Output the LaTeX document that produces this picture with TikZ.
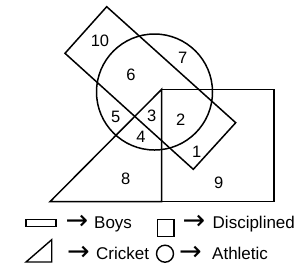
\documentclass[tikz,border=0pt]{standalone}
\usepackage{fontspec}
\setmainfont{Liberation Sans}
\newfontfamily\arrowfont{DejaVu Sans}
\begin{document}
\begin{tikzpicture}[x=1pt,y=-1pt,
  shp/.style={draw=black,line width=1.5pt,line join=miter},
  icon/.style={draw=black,line width=1.4pt},
  num/.style={inner sep=0pt,font=\fontsize{16.5}{18}\selectfont},
  leg/.style={inner sep=0pt,anchor=base west,font=\fontsize{17}{19}\selectfont},
  arr/.style={inner sep=0pt,anchor=center,font=\arrowfont\fontsize{27}{28}\selectfont}]
\useasboundingbox (0,0) rectangle (307,274);
% diagram
\draw[shp] (106.7,6.7) -- (235.7,122.7) -- (193.3,169.3) -- (65,53.3) -- cycle;
\draw[shp] (154.5,92) circle[radius=58pt];
\draw[shp] (161.7,89.3) rectangle (274,201.7);
\draw[shp] (50,201.7) -- (161.7,89.3) -- (161.7,201.7) -- cycle;
% region labels
\node[num] (n10) at (100,40.7) {10};
\node[num] (n7) at (182.7,58.3) {7};
\node[num] (n6) at (131,75) {6};
\node[num] (n5) at (115.7,117.3) {5};
\node[num] (n3) at (151.7,115.7) {3};
\node[num] (n2) at (180.7,119.3) {2};
\node[num] (n4) at (141,136.7) {4};
\node[num] (n1) at (196.7,151.7) {1};
\node[num] (n8) at (125.7,179) {8};
\node[num] (n9) at (218.7,182.7) {9};
% legend
\draw[icon] (26,219.3) rectangle (56,226.7);
\draw[icon] (157.3,219.3) rectangle (174,236.7);
\draw[icon] (26,262) -- (51.7,239.7) -- (51.7,262) -- cycle;
\draw[icon] (165,253.7) circle[radius=8.5pt];
\node[arr] (a1) at (77,222.3) {→};
\node[arr] (a2) at (194,222.3) {→};
\node[arr] (a3) at (78.5,253) {→};
\node[arr] (a4) at (190.5,253) {→};
\node[leg] (lb) at (94,228.5) {Boys};
\node[leg] (ld) at (212.5,228.5) {Disciplined};
\node[leg] (lc) at (96,259) {Cricket};
\node[leg] (la) at (212,259) {Athletic};
\end{tikzpicture}
\end{document}
